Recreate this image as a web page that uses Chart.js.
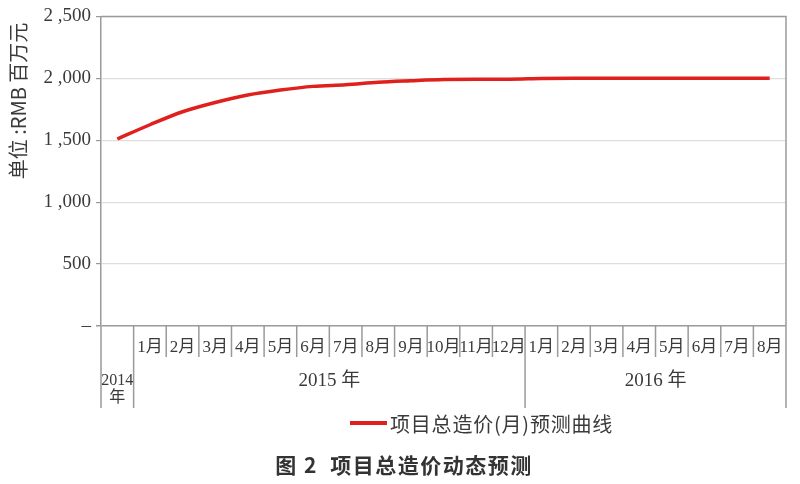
<!DOCTYPE html>
<html>
<head>
<meta charset="utf-8">
<script src="https://cdn.jsdelivr.net/npm/chart.js@4/dist/chart.umd.min.js"></script>
<style>
html,body{margin:0;padding:0;background:#fff;}
#wrap{width:800px;height:484px;position:relative;}
</style>
</head>
<body>
<div id="wrap"><canvas id="c"></canvas></div>
<script>
// ---- data ----
const monthLabels = ['', '1月','2月','3月','4月','5月','6月','7月','8月','9月','10月','11月','12月',
                     '1月','2月','3月','4月','5月','6月','7月','8月'];
const yearLabels = [['2014','年'], ['2015 年'], ['2016 年']];
const yearSpans = [1, 12, 8];
const costValues = [1510,
  1625, 1730, 1805, 1865, 1905, 1935, 1948, 1968, 1980, 1990, 1993, 1993,
  1998, 2000, 2000, 2000, 2000, 2000, 2000, 2000];
const yTickText = {0:'–', 500:'500', 1000:'1 ,000', 1500:'1 ,500', 2000:'2 ,000', 2500:'2 ,500'};
const seriesName = '项目总造价(月)预测曲线';
const yTitle = '单位 :RMB 百万元';
const chartTitle = '图 2  项目总造价动态预测';

const SERIF = '"Liberation Serif","Times New Roman","Noto Sans CJK SC",serif';
const SANS = '"Noto Sans CJK SC","Noto Sans",sans-serif';
const AXIS_COLOR = '#9a9a9a';
const TEXT_COLOR = '#3a3a3a';
const LINE_COLOR = '#e0201c';

const decorPlugin = {
  id: 'decorPlugin',
  afterDraw(chart) {
    const ctx = chart.ctx;
    const x = chart.scales.x;
    const area = chart.chartArea;
    const n = monthLabels.length;
    const step = x.getPixelForValue(1) - x.getPixelForValue(0);
    const bottom = area.bottom;
    ctx.save();
    // plot frame (top / right)
    ctx.strokeStyle = AXIS_COLOR;
    ctx.lineWidth = 1.5;
    ctx.beginPath();
    ctx.moveTo(area.left, area.top);
    ctx.lineTo(area.right, area.top);
    ctx.lineTo(area.right, area.bottom);
    ctx.stroke();
    // category / year boundaries
    const yearBounds = [0];
    let acc = 0;
    yearSpans.forEach(s => { acc += s; yearBounds.push(acc); });
    for (let i = 0; i <= n; i++) {
      const px = x.getPixelForValue(0) - step / 2 + i * step;
      const isYear = yearBounds.includes(i);
      ctx.beginPath();
      ctx.moveTo(px, bottom);
      ctx.lineTo(px, bottom + (isYear ? 82 : 31));
      ctx.stroke();
    }
    // month labels
    ctx.fillStyle = TEXT_COLOR;
    ctx.textAlign = 'center';
    ctx.textBaseline = 'middle';
    ctx.font = '17px ' + SERIF;
    for (let i = 0; i < n; i++) {
      if (!monthLabels[i]) continue;
      ctx.fillText(monthLabels[i], x.getPixelForValue(i), bottom + 22);
    }
    // year labels
    for (let g = 0; g < yearSpans.length; g++) {
      const start = yearBounds[g], end = yearBounds[g + 1];
      const cx = x.getPixelForValue(0) - step / 2 + (start + end) / 2 * step;
      const lines = yearLabels[g];
      if (lines.length > 1) {
        ctx.font = '16px ' + SERIF;
        ctx.fillText(lines[0], cx, bottom + 55);
        ctx.fillText(lines[1], cx, bottom + 72);
      } else {
        ctx.font = '19px ' + SERIF;
        ctx.fillText(lines[0], cx, bottom + 55);
      }
    }
    // y axis title (rotated)
    ctx.save();
    ctx.translate(18, 101);
    ctx.rotate(-Math.PI / 2);
    ctx.font = '20px ' + SANS;
    ctx.fillStyle = TEXT_COLOR;
    ctx.fillText(yTitle, 0, 0);
    ctx.restore();

    // legend
    const ds = chart.data.datasets[0];
    const legendY = bottom + 97;
    ctx.fillStyle = ds.borderColor;
    ctx.fillRect(350, legendY - 2, 37, 4);
    ctx.font = '20px ' + SANS;
    ctx.letterSpacing = '0.8px';
    ctx.fillStyle = TEXT_COLOR;
    ctx.textAlign = 'left';
    ctx.fillText(ds.label, 390, legendY + 1);

    // chart title
    ctx.font = 'bold 21px ' + SANS;
    ctx.letterSpacing = '1.5px';
    ctx.fillStyle = '#333';
    ctx.textAlign = 'center';
    ctx.fillText(chartTitle, 404, 465);
    ctx.restore();
  }
};

new Chart(document.getElementById('c'), {
  type: 'line',
  data: {
    labels: monthLabels,
    datasets: [{
      label: seriesName,
      data: costValues,
      borderColor: LINE_COLOR,
      backgroundColor: LINE_COLOR,
      borderWidth: 3.5,
      pointRadius: 0,
      tension: 0.4,
      cubicInterpolationMode: 'monotone',
      fill: false
    }]
  },
  options: {
    responsive: true,
    maintainAspectRatio: false,
    animation: false,
    devicePixelRatio: 1,
    layout: { padding: { top: 0, right: 14, left: 0, bottom: 76 } },
    plugins: {
      legend: { display: false },
      title: { display: false },
      tooltip: { enabled: false }
    },
    scales: {
      x: {
        offset: true,
        grid: { display: false, drawTicks: false },
        border: { display: false },
        ticks: { display: false },
        afterFit(scale) { scale.height = 82; }
      },
      y: {
        min: 0, max: 2500,
        ticks: {
          stepSize: 500,
          color: TEXT_COLOR,
          font: { family: SERIF, size: 19 },
          padding: 5,
          callback: v => yTickText[v] !== undefined ? yTickText[v] : ''
        },
        grid: {
          color: ctx => (ctx.tick && ctx.tick.value === 0) ? AXIS_COLOR : '#dedede',
          lineWidth: ctx => (ctx.tick && ctx.tick.value === 0) ? 1.5 : 1.2,
          tickColor: AXIS_COLOR,
          tickLength: 5
        },
        border: { color: AXIS_COLOR, width: 1.5 },
        afterFit(scale) { scale.width = 101; }
      }
    }
  },
  plugins: [decorPlugin]
});
</script>
</body>
</html>
